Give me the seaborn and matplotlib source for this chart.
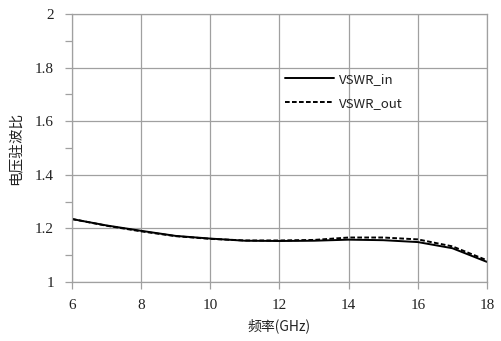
import matplotlib
matplotlib.use("Agg")
import matplotlib.pyplot as plt
import seaborn as sns
import pandas as pd
from matplotlib.ticker import MultipleLocator

freq_ghz = [6, 7, 8, 9, 10, 11, 12, 13, 14, 15, 16, 17, 18]
vswr_in = [1.235, 1.211, 1.191, 1.172, 1.162, 1.154, 1.153, 1.154, 1.158, 1.156, 1.149, 1.126, 1.075]
vswr_out = [1.235, 1.210, 1.189, 1.171, 1.161, 1.155, 1.155, 1.157, 1.166, 1.166, 1.159, 1.133, 1.081]

df = pd.DataFrame({
    "freq": freq_ghz * 2,
    "vswr": vswr_in + vswr_out,
    "series": ["VSWR_in"] * len(freq_ghz) + ["VSWR_out"] * len(freq_ghz),
})

sns.set_theme(style="white")
plt.rcParams["font.family"] = ["Noto Sans CJK SC", "DejaVu Sans"]

fig = plt.figure(figsize=(5.01, 3.41), dpi=100)
ax = fig.add_axes([0.1437, 0.173, 0.8283, 0.786])

sns.lineplot(data=df, x="freq", y="vswr", hue="series", style="series",
             palette=["black", "black"], dashes=[(None, None), (2.4, 1.2)],
             linewidth=1.4, ax=ax, legend=True)

ax.set_xlim(6, 18)
ax.set_ylim(1, 2)
ax.xaxis.set_major_locator(MultipleLocator(2))
ax.yaxis.set_minor_locator(MultipleLocator(0.1))
ax.set_yticks([1, 1.2, 1.4, 1.6, 1.8, 2])
ax.set_yticklabels(["1", "1.2", "1.4", "1.6", "1.8", "2"])

grid_c = "#a0a0a0"
ax.grid(True, which="major", color=grid_c, linewidth=0.9)
for s in ax.spines.values():
    s.set_color(grid_c)
    s.set_linewidth(0.9)

ax.tick_params(axis="both", which="both", direction="out", color=grid_c,
               left=True, bottom=True, length=5, width=0.9)
ax.tick_params(axis="y", which="both", pad=8)
ax.tick_params(axis="x", which="both", pad=7)
for lab in ax.get_xticklabels() + ax.get_yticklabels():
    lab.set_family("Liberation Serif")
    lab.set_fontsize(11)
    lab.set_color("#222222")

ax.set_xlabel("频率(GHz)", fontsize=10, color="#222222", labelpad=5)
ax.set_ylabel("电压驻波比", fontsize=10.5, color="#222222", labelpad=8)

leg = ax.legend(loc="upper left", bbox_to_anchor=(0.485, 0.825), frameon=False,
                handlelength=3.7, handletextpad=0.4, labelspacing=0.85,
                fontsize=9.5)
for t in leg.get_texts():
    t.set_color("#222222")

fig.savefig("out.png", dpi=100)
